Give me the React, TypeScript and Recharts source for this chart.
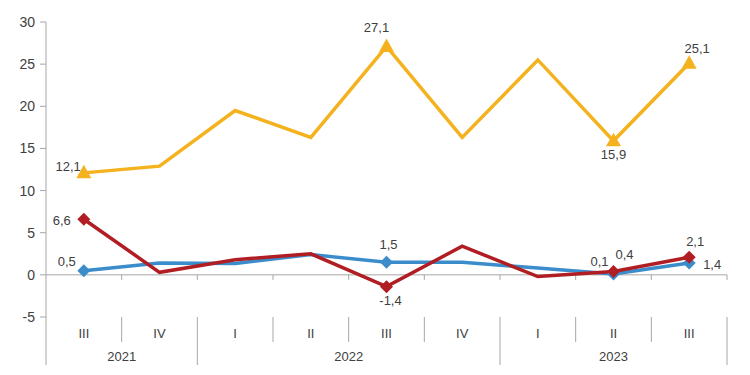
import React from 'react';
import { LineChart, Line, XAxis, YAxis, ReferenceLine } from 'recharts';

const quarters = ['III', 'IV', 'I', 'II', 'III', 'IV', 'I', 'II', 'III'];
const years = ['2021', '2021', '2022', '2022', '2022', '2022', '2023', '2023', '2023'];
const yellowValues = [12.1, 12.9, 19.5, 16.3, 27.1, 16.3, 25.5, 15.9, 25.1];
const redValues = [6.6, 0.3, 1.8, 2.5, -1.4, 3.4, -0.2, 0.4, 2.1];
const blueValues = [0.5, 1.4, 1.35, 2.4, 1.5, 1.5, 0.8, 0.1, 1.4];
const markedIndices = [0, 4, 7, 8];
const yTicks = [-5, 0, 5, 10, 15, 20, 25, 30];

const data = quarters.map((q, i) => ({
  idx: i,
  quarter: q,
  year: years[i],
  yellow: yellowValues[i],
  red: redValues[i],
  blue: blueValues[i],
}));

const W = 750;
const H = 375;
const MARGIN = { top: 22, right: 23, left: 0, bottom: 8 };
const Y_AXIS_W = 46;
const PLOT_W = W - MARGIN.left - MARGIN.right - Y_AXIS_W;
const STEP = PLOT_W / quarters.length;

const COLORS = { yellow: '#F4B21F', red: '#B01E23', blue: '#3A8CCB' };
const AXIS_GRAY = '#A6A6A6';
const TEXT = '#404040';
const FONT = 'Liberation Sans, Arial, sans-serif';

// label placement (style) per series & index: [dx, dy, anchor]
const labelPlacement: Record<string, Record<number, [number, number, string]>> = {
  yellow: { 0: [-3, -2, 'end'], 4: [-10, -14, 'middle'], 7: [0, 18, 'middle'], 8: [8, -10, 'middle'] },
  red: { 0: [-13, 6, 'end'], 4: [4, 18, 'middle'], 7: [11, -12, 'middle'], 8: [6, -11, 'middle'] },
  blue: { 0: [-8, -5, 'end'], 4: [2, -13, 'middle'], 7: [-14, -8, 'middle'], 8: [23, 6, 'middle'] },
};

const fmt = (v: number) => v.toFixed(1).replace('.', ',');

const makeDot = (series: 'yellow' | 'red' | 'blue', values: number[]) => (props: any) => {
  const { cx, cy, index } = props;
  if (!markedIndices.includes(index) || cx == null || cy == null) return <g key={`${series}-${index}`} />;
  const color = COLORS[series];
  const [dx, dy, anchor] = labelPlacement[series][index];
  const marker =
    series === 'yellow' ? (
      <polygon points={`${cx},${cy - 8} ${cx + 7.5},${cy + 5.5} ${cx - 7.5},${cy + 5.5}`} fill={color} />
    ) : (
      <polygon points={`${cx},${cy - 6.5} ${cx + 6.5},${cy} ${cx},${cy + 6.5} ${cx - 6.5},${cy}`} fill={color} />
    );
  return (
    <g key={`${series}-${index}`}>
      {marker}
      <text x={cx + dx} y={cy + dy} textAnchor={anchor as any} fontSize={13} fontFamily={FONT} fill={TEXT}>
        {fmt(values[index])}
      </text>
    </g>
  );
};

const CategoryTick = (props: any) => {
  const { x, y, payload } = props;
  const i = payload.index ?? payload.value;
  const left = x - STEP / 2;
  const right = x + STEP / 2;
  const isYearStart = i === 0 || years[i] !== years[i - 1];
  const isLast = i === quarters.length - 1;
  let yearLabel = null;
  if (isYearStart) {
    let n = 1;
    while (i + n < years.length && years[i + n] === years[i]) n++;
    yearLabel = (
      <text x={left + (n * STEP) / 2} y={y + 44} textAnchor="middle" fontSize={13} fontFamily={FONT} fill={TEXT}>
        {years[i]}
      </text>
    );
  }
  return (
    <g>
      <line x1={left} x2={left} y1={y} y2={isYearStart ? y + 48 : y + 25} stroke={AXIS_GRAY} strokeWidth={1} />
      {isLast && <line x1={right} x2={right} y1={y} y2={y + 48} stroke={AXIS_GRAY} strokeWidth={1} />}
      <text x={x} y={y + 21} textAnchor="middle" fontSize={13} fontFamily={FONT} fill={TEXT}>
        {quarters[i]}
      </text>
      {yearLabel}
    </g>
  );
};

const ZeroLine = (props: any) => {
  const { x1, x2, y1 } = props;
  const n = quarters.length;
  const step = (x2 - x1) / n;
  const ticks = [];
  for (let k = 1; k <= n; k++) {
    ticks.push(<line key={k} x1={x1 + k * step} x2={x1 + k * step} y1={y1} y2={y1 + 5} stroke={AXIS_GRAY} />);
  }
  return (
    <g>
      <line x1={x1} x2={x2} y1={y1} y2={y1} stroke={AXIS_GRAY} strokeWidth={1} />
      {ticks}
    </g>
  );
};

export default function App() {
  return (
    <div style={{ position: 'absolute', left: 0, top: 0, width: W, height: H, background: '#fff' }}>
      <LineChart width={W} height={H} data={data} margin={MARGIN}>
        <XAxis
          dataKey="idx"
          type="category"
          interval={0}
          axisLine={false}
          tickLine={false}
          tickSize={0}
          tickMargin={0}
          height={50}
          padding={{ left: STEP / 2, right: STEP / 2 }}
          tick={<CategoryTick />}
        />
        <YAxis
          width={Y_AXIS_W}
          domain={[-5, 30]}
          ticks={yTicks}
          interval={0}
          axisLine={{ stroke: AXIS_GRAY }}
          tickLine={{ stroke: AXIS_GRAY }}
          tickSize={6}
          tickMargin={5}
          tick={{ fill: TEXT, fontSize: 14, fontFamily: FONT }}
        />
        <ReferenceLine y={0} shape={<ZeroLine />} />
        <Line
          dataKey="blue"
          stroke={COLORS.blue}
          strokeWidth={3.5}
          dot={makeDot('blue', blueValues)}
          activeDot={false}
          isAnimationActive={false}
        />
        <Line
          dataKey="red"
          stroke={COLORS.red}
          strokeWidth={3.5}
          dot={makeDot('red', redValues)}
          activeDot={false}
          isAnimationActive={false}
        />
        <Line
          dataKey="yellow"
          stroke={COLORS.yellow}
          strokeWidth={3.5}
          dot={makeDot('yellow', yellowValues)}
          activeDot={false}
          isAnimationActive={false}
        />
      </LineChart>
    </div>
  );
}
